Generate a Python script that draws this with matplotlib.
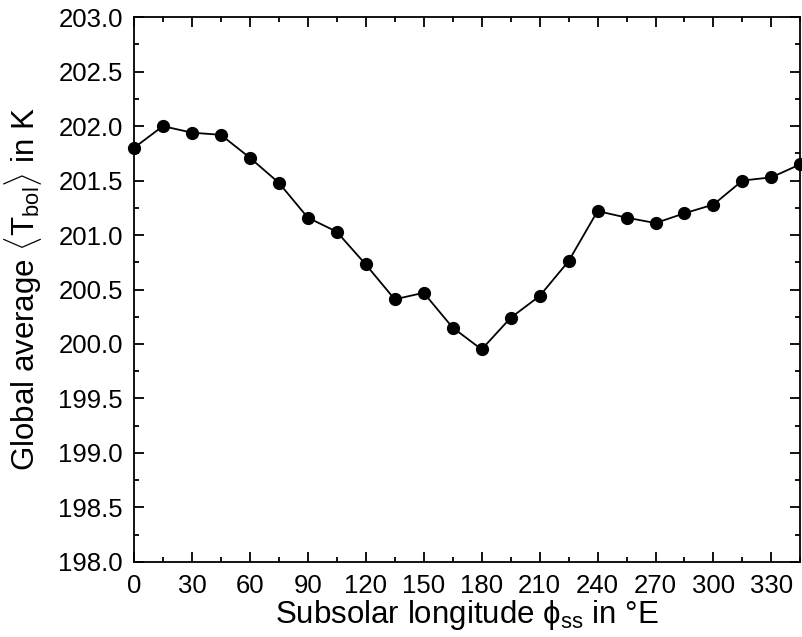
import matplotlib
matplotlib.use('Agg')
import matplotlib.pyplot as plt
from matplotlib.ticker import MultipleLocator

plt.rcParams['font.family'] = ['Liberation Sans', 'DejaVu Sans']
plt.rcParams['mathtext.fontset'] = 'custom'
plt.rcParams['mathtext.rm'] = 'Liberation Sans'
plt.rcParams['mathtext.it'] = 'Liberation Sans:italic'

# Subsolar longitude (deg E) and global average bolometric temperature (K)
longitude = [0, 15, 30, 45, 60, 75, 90, 105, 120, 135, 150, 165,
             180, 195, 210, 225, 240, 255, 270, 285, 300, 315, 330, 345]
t_bol = [201.80, 202.00, 201.94, 201.92, 201.71, 201.48, 201.16, 201.03,
         200.73, 200.41, 200.47, 200.15, 199.95, 200.24, 200.44, 200.76,
         201.22, 201.16, 201.11, 201.20, 201.28, 201.50, 201.53, 201.65]

fig = plt.figure(figsize=(8.02, 6.37), dpi=100)
ax = fig.add_axes([0.167, 0.118, 0.831, 0.855])

ax.plot(longitude, t_bol, color='black', lw=1.3, marker='o', ms=8.5,
        clip_on=False, zorder=3)

ax.set_xlim(0, 345)
ax.set_ylim(198.0, 203.0)
ax.xaxis.set_major_locator(MultipleLocator(30))
ax.xaxis.set_minor_locator(MultipleLocator(15))
ax.yaxis.set_major_locator(MultipleLocator(0.5))
ax.yaxis.set_minor_locator(MultipleLocator(0.25))
ax.yaxis.set_major_formatter(plt.FormatStrFormatter('%.1f'))

ax.tick_params(which='both', direction='in', top=True, right=True,
               width=1.3, labelsize=18.5)
ax.tick_params(which='major', length=7.5)
ax.tick_params(axis='x', which='major', pad=9)
ax.tick_params(axis='y', which='major', pad=8)
ax.tick_params(which='minor', length=3.8)
for s in ax.spines.values():
    s.set_linewidth(1.3)

ax.set_xlabel(r'Subsolar longitude $\mathrm{\phi}_{\mathrm{ss}}$ in °E',
              fontsize=22.5, labelpad=0)
ax.set_ylabel(r'Global average $\langle\mathrm{T}_{\mathrm{bol}}\rangle$ in K',
              fontsize=22.5, labelpad=10)

fig.savefig('out.png', dpi=100)
